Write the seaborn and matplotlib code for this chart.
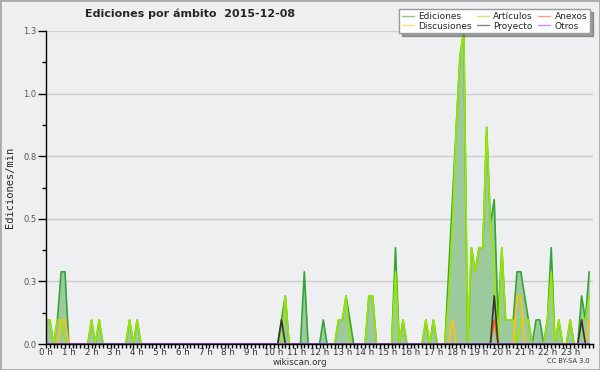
import numpy as np
import pandas as pd
import matplotlib
matplotlib.use('Agg')
import matplotlib.pyplot as plt
import seaborn as sns
from matplotlib.ticker import AutoMinorLocator, FixedLocator

# 10-minute bins over the day (edits per minute)
minutos = np.arange(0, 1440, 10)

ediciones = [
    0.1, 0.1, 0, 0.1, 0.3, 0.3,     # 0 h
    0, 0, 0, 0, 0, 0,               # 1 h
    0.1, 0, 0.1, 0, 0, 0,           # 2 h
    0, 0, 0, 0, 0.1, 0,             # 3 h
    0.1, 0, 0, 0, 0, 0,             # 4 h
    0, 0, 0, 0, 0, 0,               # 5 h
    0, 0, 0, 0, 0, 0,               # 6 h
    0, 0, 0, 0, 0, 0,               # 7 h
    0, 0, 0, 0, 0, 0,               # 8 h
    0, 0, 0, 0, 0, 0,               # 9 h
    0, 0, 0.1, 0.2, 0, 0,           # 10 h
    0, 0, 0.3, 0, 0, 0,             # 11 h
    0, 0.1, 0, 0, 0, 0.1,           # 12 h
    0.1, 0.2, 0.1, 0, 0, 0,         # 13 h
    0, 0.2, 0.2, 0, 0, 0,           # 14 h
    0, 0, 0.4, 0, 0.1, 0,           # 15 h
    0, 0, 0, 0, 0.1, 0,             # 16 h
    0.1, 0, 0, 0, 0.3, 0.6,         # 17 h
    0.9, 1.2, 1.3, 0, 0.4, 0.3,     # 18 h
    0.4, 0.4, 0.9, 0.5, 0.6, 0.1,   # 19 h
    0.4, 0.1, 0.1, 0.1, 0.3, 0.3,   # 20 h
    0.2, 0.1, 0, 0.1, 0.1, 0,       # 21 h
    0.1, 0.4, 0, 0.1, 0, 0,         # 22 h
    0.1, 0, 0, 0.2, 0.1, 0.3,       # 23 h
]

articulos = [
    0.1, 0.1, 0, 0.1, 0.1, 0,       # 0 h
    0, 0, 0, 0, 0, 0,               # 1 h
    0.1, 0, 0.1, 0, 0, 0,           # 2 h
    0, 0, 0, 0, 0.1, 0,             # 3 h
    0.1, 0, 0, 0, 0, 0,             # 4 h
    0, 0, 0, 0, 0, 0,               # 5 h
    0, 0, 0, 0, 0, 0,               # 6 h
    0, 0, 0, 0, 0, 0,               # 7 h
    0, 0, 0, 0, 0, 0,               # 8 h
    0, 0, 0, 0, 0, 0,               # 9 h
    0, 0, 0, 0.2, 0, 0,             # 10 h
    0, 0, 0, 0, 0, 0,               # 11 h
    0, 0, 0, 0, 0, 0.1,             # 12 h
    0.1, 0.2, 0, 0, 0, 0,           # 13 h
    0, 0.2, 0.2, 0, 0, 0,           # 14 h
    0, 0, 0.3, 0, 0.1, 0,           # 15 h
    0, 0, 0, 0, 0.1, 0,             # 16 h
    0.1, 0, 0, 0, 0.2, 0.5,         # 17 h
    0.9, 1.2, 1.3, 0, 0.4, 0.3,     # 18 h
    0.4, 0.4, 0.9, 0.5, 0.3, 0,     # 19 h
    0.4, 0.1, 0.1, 0.1, 0, 0.1,     # 20 h
    0.1, 0.1, 0, 0, 0, 0,           # 21 h
    0.1, 0.3, 0, 0.1, 0, 0,         # 22 h
    0.1, 0, 0, 0.1, 0.1, 0.2,       # 23 h
]

# sparse series: {bin index: value}
anexos = {118: 0.1}
discusiones = {4: 0.1, 5: 0.1, 107: 0.1, 124: 0.2, 125: 0.2, 143: 0.1}
proyecto = {62: 0.1, 118: 0.2, 141: 0.1}
otros = {}

horas = list(range(24))
hora_labels = [f'{h} h' for h in horas]


def expand(d):
    v = np.zeros(len(minutos))
    for k, val in d.items():
        v[k] = val
    return v


df = pd.DataFrame({
    'hora': minutos / 60,
    'Ediciones': ediciones,
    'Artículos': articulos,
    'Anexos': expand(anexos),
    'Discusiones': expand(discusiones),
    'Proyecto': expand(proyecto),
    'Otros': expand(otros),
})

colores = {
    'Ediciones': '#34a534',
    'Artículos': '#9be600',
    'Anexos': '#ff5a1e',
    'Discusiones': '#ffc20e',
    'Proyecto': '#333333',
    'Otros': '#9944ee',
}

bg = '#eeeff1'
sns.set_style('white')
plt.rcParams['font.family'] = ['DejaVu Sans']

fig = plt.figure(figsize=(6, 3.7), dpi=100, facecolor=bg)
ax = fig.add_axes([46 / 600, 26 / 370, 547 / 600, 313 / 370])
ax.set_facecolor(bg)

ax.fill_between(df['hora'], df['Ediciones'], color='#9dca9d', lw=0, zorder=1)
for name, c in colores.items():
    sns.lineplot(data=df, x='hora', y=name, color=c, lw=1.2, ax=ax,
                 label=name, legend=False, zorder=2)

ax.set_xlim(0, 24)
ax.set_ylim(0, 1.3)

ax.set_yticks(np.linspace(0, 1.3, 6))
ax.set_yticklabels([f'{v:.1f}' for v in np.linspace(0, 1.3, 6)])
ax.yaxis.set_minor_locator(AutoMinorLocator(2))
ax.set_xticks(horas)
ax.set_xticklabels(hora_labels)
ax.xaxis.set_minor_locator(FixedLocator(list(df['hora']) + [24]))

ax.tick_params(axis='x', which='both', direction='out', length=3, width=1,
               color='black', labelsize=6.3, labelcolor='#333333', pad=0)
ax.tick_params(axis='y', which='major', direction='out', length=6, width=1,
               color='black', labelsize=6, labelcolor='#555555', pad=1)
ax.tick_params(axis='y', which='minor', direction='out', length=3, width=1,
               color='black')
ax.tick_params(bottom=True, left=True, which='both')

ax.yaxis.grid(True, color='#cccccc', lw=1)
ax.xaxis.grid(False)
ax.set_axisbelow(True)
for s in ['top', 'right']:
    ax.spines[s].set_visible(False)
for s in ['left', 'bottom']:
    ax.spines[s].set_color('black')
    ax.spines[s].set_linewidth(1)
    ax.spines[s].set_zorder(5)

ax.set_xlabel('')
ax.set_ylabel('Ediciones/min', family='DejaVu Sans Mono', fontsize=7.5)
ax.yaxis.set_label_coords(-0.057, 0.5)

fig.text(85 / 600, 1 - 14 / 370, 'Ediciones por ámbito  2015-12-08',
         fontsize=8, fontweight='bold', va='center', ha='left')
fig.text(300 / 600, 1 - 362.5 / 370, 'wikiscan.org', fontsize=6.3,
         ha='center', va='center', color='#333333')
fig.text(590 / 600, 1 - 361 / 370, 'CC BY-SA 3.0', fontsize=4.8,
         ha='right', va='center', color='#333333')

handles = {h.get_label(): h for h in ax.get_lines()}
order = ['Ediciones', 'Discusiones', 'Artículos', 'Proyecto', 'Anexos', 'Otros']
leg = fig.legend([handles[k] for k in order], order, loc='upper right',
                 bbox_to_anchor=(590 / 600, 1 - 9 / 370), ncol=3,
                 fontsize=6.5, frameon=True, fancybox=False, shadow=True,
                 handlelength=1.3, handletextpad=0.5, columnspacing=0.6,
                 labelspacing=0.1, borderpad=0.3, borderaxespad=0)
leg.get_frame().set_facecolor('white')
leg.get_frame().set_edgecolor('#999999')
for h in leg.legend_handles:
    h.set_alpha(0.6)
    h.set_linewidth(1)

fig.patches.append(plt.Rectangle((0, 0), 1, 1, transform=fig.transFigure,
                                 fill=False, ec='#aaaaaa', lw=2))

fig.savefig('out.png', dpi=100, facecolor=bg)
